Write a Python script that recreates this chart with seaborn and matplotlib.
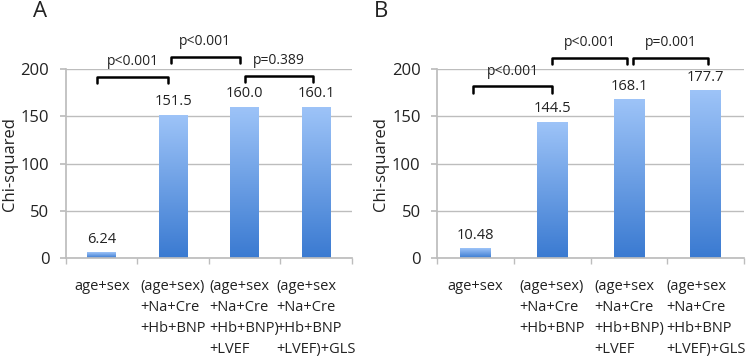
import numpy as np
import pandas as pd
import seaborn as sns
import matplotlib.pyplot as plt
from matplotlib.colors import LinearSegmentedColormap

sns.set_theme(style='white')
plt.rcParams['font.family'] = ['Open Sans', 'DejaVu Sans']

models = ['age+sex',
          '(age+sex)\n+Na+Cre\n+Hb+BNP',
          '(age+sex\n+Na+Cre\n+Hb+BNP)\n+LVEF',
          '(age+sex\n+Na+Cre\n+Hb+BNP\n+LVEF)+GLS']
chi_a = [6.24, 151.5, 160.0, 160.1]
chi_b = [10.48, 144.5, 168.1, 177.7]
labels_a = ['6.24', '151.5', '160.0', '160.1']
labels_b = ['10.48', '144.5', '168.1', '177.7']
pvals_a = ['p<0.001', 'p<0.001', 'p=0.389']
pvals_b = ['p<0.001', 'p<0.001', 'p=0.001']
# bracket heights (chi-squared units) for the comparisons i -> i+1
bracket_a = [192, 213, 193]
bracket_b = [182, 212, 212]

grad = LinearSegmentedColormap.from_list('bar', ['#3A7AD1', '#9EC4F8'])
grid_col = '#BDBDBD'
txt_col = '#222222'

fig = plt.figure(figsize=(7.5, 3.57), dpi=100)
ax_a = fig.add_axes([0.088, 0.2765, 0.381, 0.53])
ax_b = fig.add_axes([0.583, 0.2765, 0.409, 0.53])


def draw(ax, vals, labs, pvals, bh, shifts):
    df = pd.DataFrame({'model': models, 'chi': vals})
    sns.barplot(data=df, x='model', y='chi', ax=ax, width=0.4,
                color='#5B93E0', saturation=1, edgecolor='none', zorder=2)
    ax.set_xlim(-0.5, 3.5)
    ax.set_ylim(0, 200)
    # gradient fill
    g = np.linspace(0, 1, 256).reshape(-1, 1)
    for k, p in enumerate(ax.patches):
        x0, y0 = p.get_x(), p.get_y()
        w, h = p.get_width(), p.get_height()
        p.set_facecolor('none')
        im = ax.imshow(g, cmap=grad, aspect='auto', origin='lower',
                       extent=[x0, x0 + w, y0, y0 + h], zorder=2)
        im.set_clip_path(p)
        ax.annotate(labs[k], (x0 + w / 2, y0 + h),
                    xytext=(0, 4), textcoords='offset points',
                    ha='center', va='bottom', fontsize=10.5, color=txt_col)
    ax.set_xlim(-0.5, 3.5)
    ax.set_ylim(0, 200)
    ax.set_yticks([0, 50, 100, 150, 200])
    ax.yaxis.grid(True, color=grid_col, linewidth=1, zorder=0)
    ax.set_axisbelow(True)
    ax.set_xticks(range(4))
    ax.set_xticklabels(models, fontsize=10.5, multialignment='left',
                       linespacing=1.55)
    ax.set_xticks([-0.5, 0.5, 1.5, 2.5, 3.5], minor=True)
    ax.tick_params(axis='x', which='major', length=0, pad=15, colors=txt_col)
    ax.tick_params(axis='x', which='minor', length=4, color=grid_col,
                   direction='out', bottom=True)
    ax.tick_params(axis='y', length=4, color=grid_col, direction='out',
                   left=True, labelsize=12, labelcolor=txt_col, pad=8)
    for s in ['top', 'right']:
        ax.spines[s].set_visible(False)
    for s in ['left', 'bottom']:
        ax.spines[s].set_color(grid_col)
    ax.set_xlabel('')
    ax.set_ylabel('Chi-squared', fontsize=12, color=txt_col, labelpad=2)
    for i, (pv, h) in enumerate(zip(pvals, bh)):
        x1 = i + shifts[i][0]
        x2 = i + 1 + shifts[i][1]
        ax.plot([x1, x1, x2, x2], [h - 7, h, h, h - 7], color='black',
                linewidth=1.8, clip_on=False, zorder=5)
        ax.text((x1 + x2) / 2, h + 8, pv, ha='center', va='bottom',
                fontsize=10, color=txt_col, clip_on=False)


draw(ax_a, chi_a, labels_a, pvals_a, bracket_a,
     [(-0.06, -0.07), (-0.03, -0.07), (0.0, -0.04)])
draw(ax_b, chi_b, labels_b, pvals_b, bracket_b,
     [(-0.03, 0.0), (0.0, -0.03), (0.05, 0.03)])

fig.text(0.054, 0.968, 'A', fontsize=16, color=txt_col, va='center', ha='center')
fig.text(0.508, 0.968, 'B', fontsize=16, color=txt_col, va='center', ha='center')

fig.savefig('out.png', dpi=100)
